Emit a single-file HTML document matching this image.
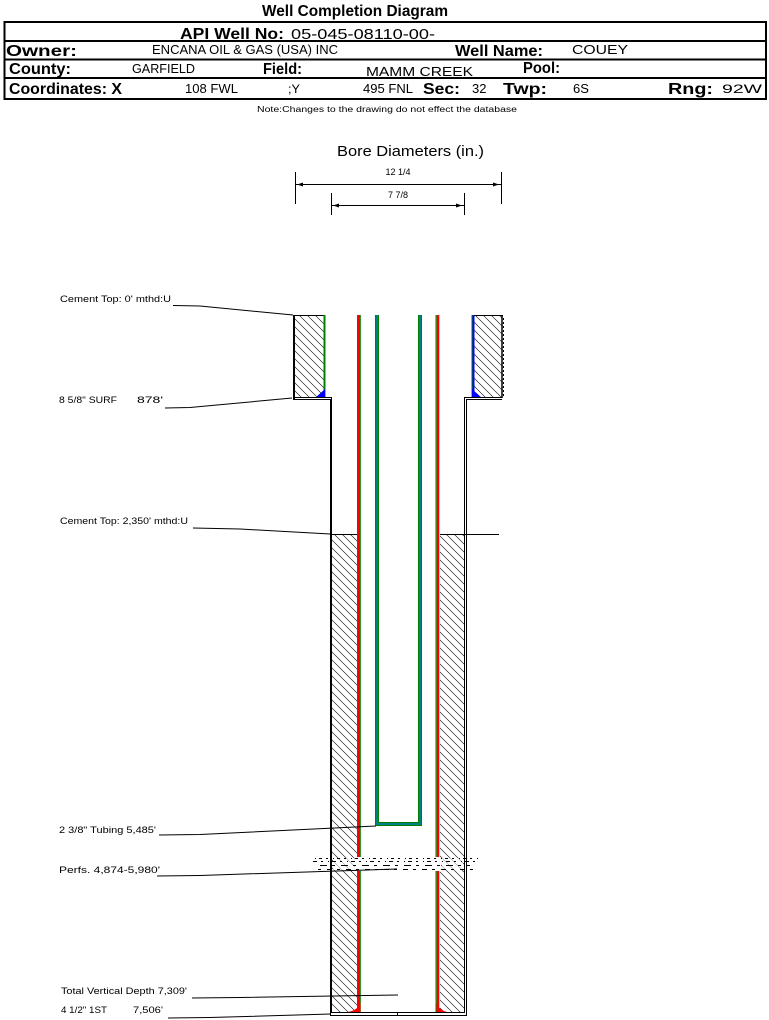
<!DOCTYPE html>
<html>
<head>
<meta charset="utf-8">
<style>
html,body{margin:0;padding:0;background:#fff;}
svg{display:block;}
text{font-family:"Liberation Sans",Arial,sans-serif;fill:#000;}
.b{font-weight:bold;}
</style>
</head>
<body>
<svg width="769" height="1020" viewBox="0 0 769 1020" xmlns="http://www.w3.org/2000/svg">
<defs>
<pattern id="h" patternUnits="userSpaceOnUse" width="8" height="8">
<line x1="0" y1="0" x2="8" y2="8" stroke="#000" stroke-width="0.6"/>
<line x1="-1" y1="7" x2="1" y2="9" stroke="#000" stroke-width="0.6"/>
<line x1="7" y1="-1" x2="9" y2="1" stroke="#000" stroke-width="0.6"/>
</pattern>
</defs>

<!-- Header -->
<text class="b" x="262" y="16" font-size="16" textLength="186" lengthAdjust="spacingAndGlyphs">Well Completion Diagram</text>
<rect x="4.5" y="22" width="761.5" height="77" fill="none" stroke="#000" stroke-width="2"/>
<line x1="4" y1="41" x2="766" y2="41" stroke="#000" stroke-width="2"/>
<line x1="4" y1="59.5" x2="766" y2="59.5" stroke="#000" stroke-width="2"/>
<line x1="4" y1="78" x2="766" y2="78" stroke="#000" stroke-width="2"/>

<text class="b" x="180" y="39" font-size="16" textLength="104" lengthAdjust="spacingAndGlyphs">API Well No:</text>
<text x="291" y="39" font-size="15" textLength="144" lengthAdjust="spacingAndGlyphs">05-045-08110-00-</text>

<text class="b" x="6" y="56" font-size="16" textLength="71" lengthAdjust="spacingAndGlyphs">Owner:</text>
<text x="152" y="54" font-size="13" textLength="186" lengthAdjust="spacingAndGlyphs">ENCANA OIL &amp; GAS (USA) INC</text>
<text class="b" x="455" y="56" font-size="16" textLength="88" lengthAdjust="spacingAndGlyphs">Well Name:</text>
<text x="572" y="54" font-size="13" textLength="56" lengthAdjust="spacingAndGlyphs">COUEY</text>

<text class="b" x="9" y="74" font-size="16" textLength="62" lengthAdjust="spacingAndGlyphs">County:</text>
<text x="132" y="73" font-size="13" textLength="63" lengthAdjust="spacingAndGlyphs">GARFIELD</text>
<text class="b" x="263" y="74" font-size="16" textLength="39" lengthAdjust="spacingAndGlyphs">Field:</text>
<text x="366" y="76" font-size="13" textLength="107" lengthAdjust="spacingAndGlyphs">MAMM CREEK</text>
<text class="b" x="523" y="73" font-size="16" textLength="37" lengthAdjust="spacingAndGlyphs">Pool:</text>

<text class="b" x="9" y="94" font-size="16" textLength="113" lengthAdjust="spacingAndGlyphs">Coordinates: X</text>
<text x="185" y="93" font-size="13" textLength="53" lengthAdjust="spacingAndGlyphs">108 FWL</text>
<text x="288" y="93" font-size="12" textLength="12" lengthAdjust="spacingAndGlyphs">;Y</text>
<text x="363" y="93" font-size="13" textLength="50" lengthAdjust="spacingAndGlyphs">495 FNL</text>
<text class="b" x="423" y="94" font-size="16" textLength="37" lengthAdjust="spacingAndGlyphs">Sec:</text>
<text x="472" y="93" font-size="13">32</text>
<text class="b" x="503" y="94" font-size="16" textLength="44" lengthAdjust="spacingAndGlyphs">Twp:</text>
<text x="573" y="93" font-size="13">6S</text>
<text class="b" x="668" y="94" font-size="16" textLength="45" lengthAdjust="spacingAndGlyphs">Rng:</text>
<text x="722" y="93" font-size="12" textLength="40" lengthAdjust="spacingAndGlyphs">92W</text>

<text x="257" y="112" font-size="8" textLength="260" lengthAdjust="spacingAndGlyphs">Note:Changes to the drawing do not effect the database</text>

<!-- Bore diameters -->
<text x="337" y="156" font-size="15" textLength="147" lengthAdjust="spacingAndGlyphs">Bore Diameters (in.)</text>
<line x1="295.5" y1="172" x2="295.5" y2="204" stroke="#000" stroke-width="1"/>
<line x1="501.5" y1="172" x2="501.5" y2="204" stroke="#000" stroke-width="1"/>
<line x1="295" y1="184.5" x2="501" y2="184.5" stroke="#000" stroke-width="1"/>
<polygon points="297,184.5 303,182.5 303,186.5" fill="#000"/>
<polygon points="499,184.5 493,182.5 493,186.5" fill="#000"/>
<text x="398" y="175" font-size="9" text-anchor="middle">12 1/4</text>
<line x1="331.5" y1="193" x2="331.5" y2="215" stroke="#000" stroke-width="1"/>
<line x1="464.5" y1="193" x2="464.5" y2="215" stroke="#000" stroke-width="1"/>
<line x1="331" y1="205.5" x2="464" y2="205.5" stroke="#000" stroke-width="1"/>
<polygon points="333,205.5 339,203.5 339,207.5" fill="#000"/>
<polygon points="462,205.5 456,203.5 456,207.5" fill="#000"/>
<text x="398" y="198" font-size="9" text-anchor="middle">7 7/8</text>

<!-- Surface cement blocks -->
<rect x="294" y="315" width="30" height="83" fill="url(#h)"/>
<rect x="474" y="315" width="28" height="83" fill="url(#h)"/>
<line x1="293" y1="315.5" x2="325" y2="315.5" stroke="#000" stroke-width="1"/>
<line x1="472" y1="315.5" x2="503" y2="315.5" stroke="#000" stroke-width="1"/>
<line x1="294" y1="315" x2="294" y2="399" stroke="#000" stroke-width="2"/>
<line x1="502" y1="315" x2="502" y2="398" stroke="#000" stroke-width="1.5"/>
<line x1="503.5" y1="318" x2="503.5" y2="396" stroke="#000" stroke-width="1" stroke-dasharray="2,2"/>
<!-- surface casing -->
<rect x="323.5" y="315" width="2" height="83" fill="#008000"/>
<polygon points="315,398 325,398 325,389" fill="#0000ff"/>
<rect x="471.5" y="315" width="1" height="83" fill="#008000"/>
<rect x="472.5" y="315" width="2" height="83" fill="#0000ff"/>
<polygon points="472,389 472,398 482,398" fill="#0000ff"/>

<!-- Production cement -->
<rect x="331" y="534" width="26" height="479" fill="url(#h)"/>
<rect x="440" y="534" width="24" height="479" fill="url(#h)"/>
<line x1="330" y1="534.5" x2="357" y2="534.5" stroke="#000" stroke-width="1"/>
<line x1="440" y1="534.5" x2="499" y2="534.5" stroke="#000" stroke-width="1"/>

<!-- Hole outline -->
<path d="M293,397.5 H331.5 V1012.5" fill="none" stroke="#000" stroke-width="1"/>
<path d="M293,399.5 H330.5 V1015.5" fill="none" stroke="#000" stroke-width="1"/>
<path d="M502,397.5 H464.5 V1012.5" fill="none" stroke="#000" stroke-width="1"/>
<path d="M502,399.5 H466.5 V1015.5" fill="none" stroke="#000" stroke-width="1"/>
<line x1="331" y1="1012.5" x2="465" y2="1012.5" stroke="#000" stroke-width="1"/>
<line x1="330" y1="1015.5" x2="467" y2="1015.5" stroke="#000" stroke-width="1"/>
<line x1="397.5" y1="1012" x2="397.5" y2="1015" stroke="#000" stroke-width="1"/>

<!-- Production casing -->
<rect x="357" y="315" width="2.5" height="697" fill="#ff0000"/>
<rect x="359.5" y="315" width="1.3" height="697" fill="#008000"/>
<rect x="435.5" y="315" width="1.3" height="697" fill="#008000"/>
<rect x="436.8" y="315" width="2.5" height="697" fill="#ff0000"/>
<path d="M348,1012 L360.5,1012 L360.5,1003 Q358,1010 348,1012 Z" fill="#ff0000"/>
<path d="M436.5,1003 L436.5,1012 L447,1012 Q439,1010 436.5,1003 Z" fill="#ff0000"/>

<!-- Tubing -->
<rect x="375" y="315" width="4" height="511" fill="#008000"/>
<rect x="418" y="315" width="4" height="511" fill="#008000"/>
<rect x="375" y="822" width="47" height="4" fill="#008000"/>
<rect x="376" y="315" width="2" height="510" fill="#008080"/>
<rect x="419" y="315" width="2" height="510" fill="#008080"/>
<rect x="376" y="823" width="45" height="2" fill="#008080"/>

<!-- Perfs -->
<rect x="355" y="857" width="7" height="14" fill="#fff"/>
<rect x="434" y="857" width="7" height="14" fill="#fff"/>
<rect x="333" y="858" width="22" height="12" fill="#fff" opacity="0.6"/>
<rect x="442" y="858" width="21" height="12" fill="#fff" opacity="0.6"/>
<line x1="315" y1="858.5" x2="480" y2="858.5" stroke="#000" stroke-width="1" stroke-dasharray="1 3 3 4 2 5"/>
<line x1="313" y1="861.5" x2="478" y2="861.5" stroke="#000" stroke-width="1" stroke-dasharray="4 4 2 5 1 3"/>
<line x1="320" y1="865.5" x2="470" y2="865.5" stroke="#000" stroke-width="1" stroke-dasharray="7 5 3 6"/>
<line x1="318" y1="869.5" x2="475" y2="869.5" stroke="#000" stroke-width="1" stroke-dasharray="3 6 5 5"/>

<!-- Leaders -->
<polyline points="173,305.5 200,306 293,315" fill="none" stroke="#000" stroke-width="1"/>
<polyline points="165,408 190,407.5 292,398" fill="none" stroke="#000" stroke-width="1"/>
<polyline points="193,528 240,529 330,534" fill="none" stroke="#000" stroke-width="1"/>
<polyline points="159,835 200,834.5 376,826" fill="none" stroke="#000" stroke-width="1"/>
<polyline points="157,876 200,875.5 397,869" fill="none" stroke="#000" stroke-width="1"/>
<polyline points="192,998 240,997.5 398,995" fill="none" stroke="#000" stroke-width="1"/>
<polyline points="168,1018 210,1017.5 331,1014" fill="none" stroke="#000" stroke-width="1"/>

<!-- Labels -->
<text x="60" y="302" font-size="9" textLength="111" lengthAdjust="spacingAndGlyphs">Cement Top: 0' mthd:U</text>
<text x="59" y="403" font-size="9" textLength="58" lengthAdjust="spacingAndGlyphs">8 5/8" SURF</text>
<text x="137" y="403" font-size="9" textLength="26" lengthAdjust="spacingAndGlyphs">878'</text>
<text x="60" y="524" font-size="9" textLength="128" lengthAdjust="spacingAndGlyphs">Cement Top: 2,350' mthd:U</text>
<text x="59" y="833" font-size="9" textLength="97" lengthAdjust="spacingAndGlyphs">2 3/8" Tubing 5,485'</text>
<text x="59" y="873" font-size="9" textLength="101" lengthAdjust="spacingAndGlyphs">Perfs. 4,874-5,980'</text>
<text x="61" y="994" font-size="9" textLength="126" lengthAdjust="spacingAndGlyphs">Total Vertical Depth 7,309'</text>
<text x="61" y="1013" font-size="9" textLength="46" lengthAdjust="spacingAndGlyphs">4 1/2" 1ST</text>
<text x="133" y="1013" font-size="9" textLength="30" lengthAdjust="spacingAndGlyphs">7,506'</text>
</svg>
</body>
</html>
